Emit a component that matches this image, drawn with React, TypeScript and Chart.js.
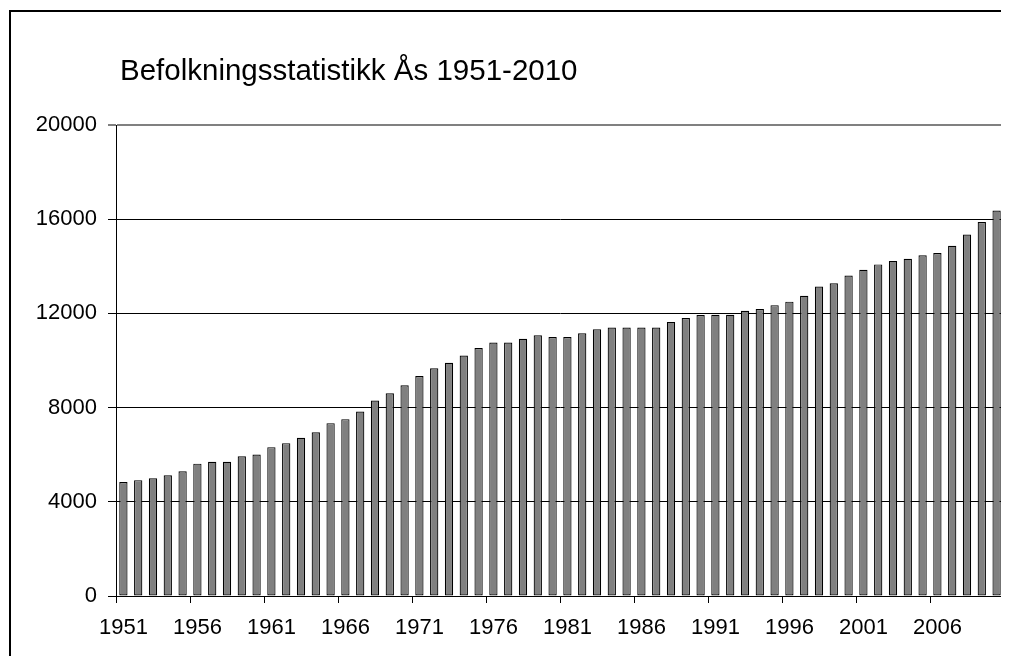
import React, { useEffect, useRef } from 'react';
import { Chart, registerables } from 'chart.js';

Chart.register(...registerables);

const titleText = 'Befolkningsstatistikk Ås 1951-2010';

const years = [
  '1951', '1952', '1953', '1954', '1955', '1956', '1957', '1958', '1959', '1960',
  '1961', '1962', '1963', '1964', '1965', '1966', '1967', '1968', '1969', '1970',
  '1971', '1972', '1973', '1974', '1975', '1976', '1977', '1978', '1979', '1980',
  '1981', '1982', '1983', '1984', '1985', '1986', '1987', '1988', '1989', '1990',
  '1991', '1992', '1993', '1994', '1995', '1996', '1997', '1998', '1999', '2000',
  '2001', '2002', '2003', '2004', '2005', '2006', '2007', '2008', '2009', '2010',
];

const population = [
  4840, 4920, 5000, 5130, 5300, 5620, 5700, 5700, 5930, 6010,
  6320, 6490, 6720, 6950, 7340, 7510, 7830, 8300, 8610, 8950,
  9340, 9670, 9900, 10210, 10530, 10760, 10760, 10920, 11070, 11000,
  11000, 11160, 11330, 11400, 11400, 11400, 11400, 11640, 11800, 11930,
  11940, 11940, 12110, 12190, 12350, 12500, 12750, 13140, 13280, 13610,
  13850, 14080, 14230, 14320, 14470, 14560, 14870, 15350, 15880, 16370,
];

const yMin = 0;
const yMax = 20000;
const yStep = 4000;
const labelEvery = 5;

const FONT = '"Liberation Sans", Arial, sans-serif';

const framePlugin = {
  id: 'framePlugin',
  afterDraw(chart: any) {
    const { ctx, chartArea } = chart;
    ctx.save();
    ctx.fillStyle = '#000';
    ctx.fillRect(1, 2, 2, chart.height + 10);
    ctx.fillRect(1, 2, chart.width + 10, 2);
    ctx.strokeStyle = '#808080';
    ctx.lineWidth = 2;
    ctx.beginPath();
    ctx.moveTo(chartArea.right, chartArea.top - 1);
    ctx.lineTo(chartArea.right, chartArea.bottom);
    ctx.stroke();
    ctx.fillStyle = '#000';
    ctx.font = `29.5px ${FONT}`;
    ctx.textAlign = 'left';
    ctx.textBaseline = 'alphabetic';
    ctx.fillText(titleText, 112, 72);
    ctx.restore();
  },
};

export default function App() {
  const ref = useRef<HTMLCanvasElement | null>(null);

  useEffect(() => {
    if (!ref.current) return;
    const chart = new Chart(ref.current, {
      type: 'bar',
      data: {
        labels: years,
        datasets: [
          {
            data: population,
            backgroundColor: '#808080',
            borderColor: '#000',
            borderWidth: 1.2,
            borderSkipped: false,
            barPercentage: 0.56,
            categoryPercentage: 1,
          },
        ],
      },
      options: {
        animation: false,
        responsive: false,
        devicePixelRatio: 1,
        layout: { padding: { top: 117, right: 5, left: 0, bottom: 0 } },
        plugins: {
          legend: { display: false },
          title: { display: false },
          tooltip: { enabled: false },
        },
        scales: {
          x: {
            offset: true,
            afterFit(scale: any) {
              scale.height = 60;
            },
            grid: {
              offset: true,
              drawOnChartArea: false,
              drawTicks: true,
              tickLength: 7,
              color: '#000',
              tickColor: (c: any) => (c.index % labelEvery === 0 ? '#000' : 'rgba(0,0,0,0)'),
            },
            border: { display: true, color: '#000', width: 1 },
            ticks: {
              autoSkip: false,
              maxRotation: 0,
              minRotation: 0,
              padding: 12,
              color: '#000',
              font: { family: FONT, size: 22 },
              callback: (_v: any, i: number) => (i % labelEvery === 0 ? years[i] : ''),
            },
          },
          y: {
            min: yMin,
            max: yMax,
            afterFit(scale: any) {
              scale.width = 108;
            },
            grid: {
              color: (c: any) => (c.tick && c.tick.value === yMax ? '#808080' : '#000'),
              lineWidth: (c: any) => (c.tick && c.tick.value === yMax ? 2 : 1),
              tickColor: '#000',
              tickLength: 8,
              tickWidth: 1,
            },
            border: { display: true, color: '#000', width: 1 },
            ticks: {
              stepSize: yStep,
              padding: 11,
              color: '#000',
              font: { family: FONT, size: 22 },
              callback: (v: any) => String(v),
            },
          },
        },
      },
      plugins: [framePlugin],
    });
    return () => chart.destroy();
  }, []);

  return (
    <div style={{ position: 'relative', width: 1001, height: 648 }}>
      <canvas ref={ref} width={1001} height={648} style={{ display: 'block' }} />
    </div>
  );
}
